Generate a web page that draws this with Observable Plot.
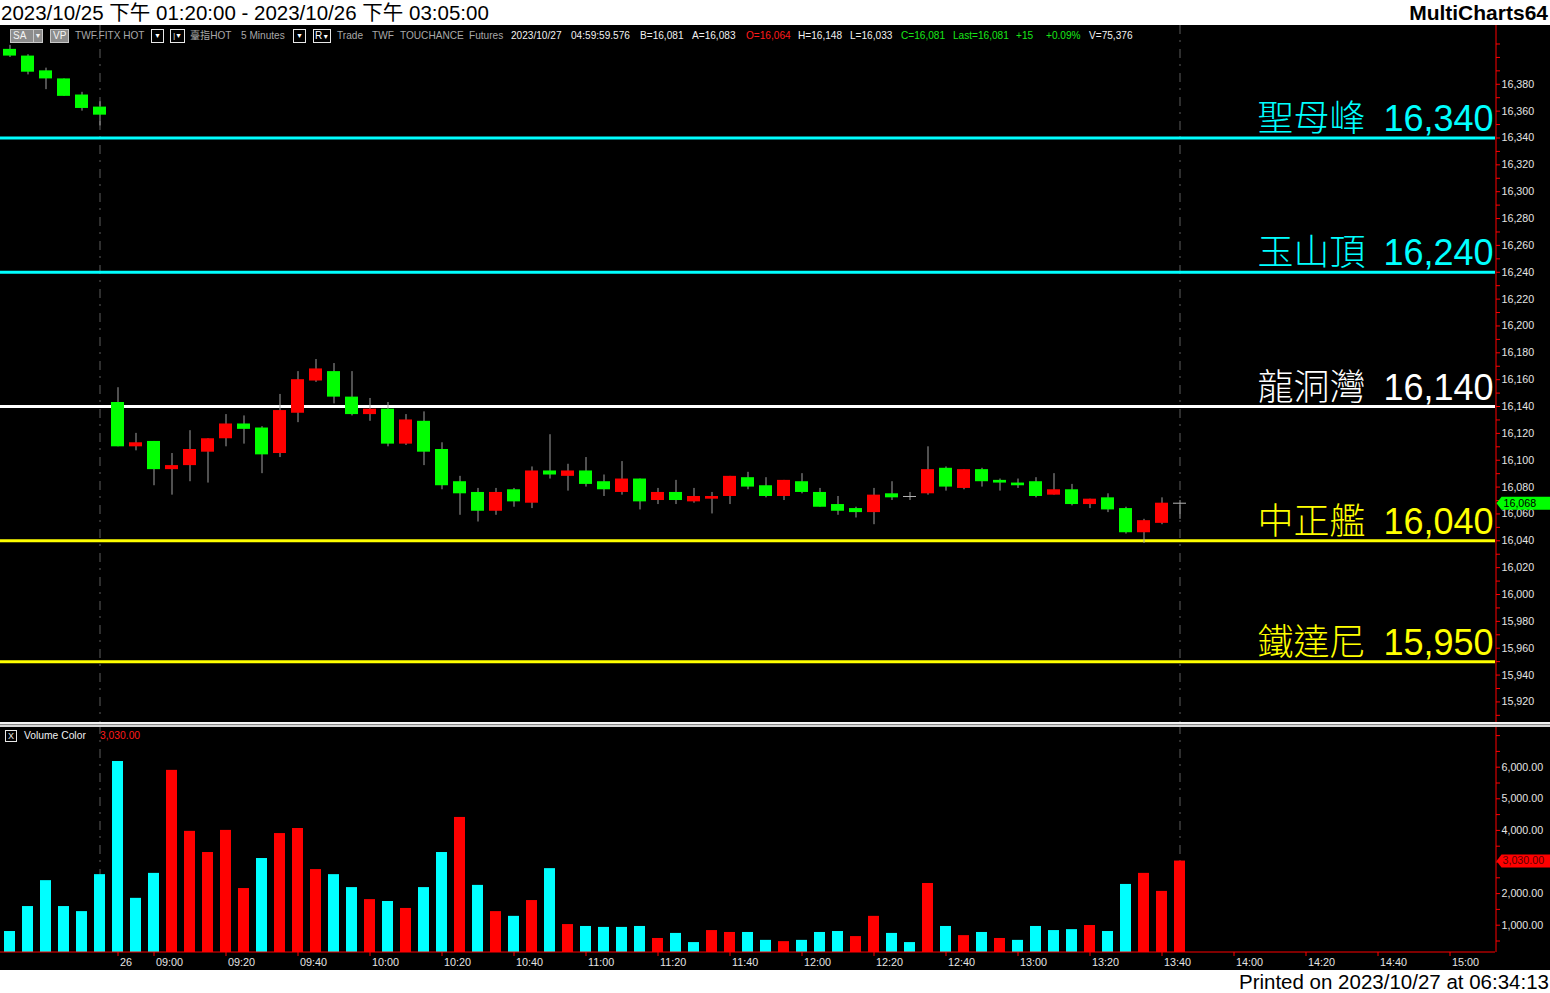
<!DOCTYPE html>
<html><head><meta charset="utf-8">
<script src="https://cdn.jsdelivr.net/npm/d3@7"></script>
<script src="https://cdn.jsdelivr.net/npm/@observablehq/plot@0.6"></script>
<style>
html,body{margin:0;padding:0;}
body{width:1550px;height:993px;overflow:hidden;background:#fff;position:relative;font-family:"Liberation Sans",Arial,"Noto Sans CJK TC",sans-serif;}
#title{position:absolute;left:1px;top:0;font-size:20.5px;line-height:25px;color:#000;white-space:nowrap;}
#brand{position:absolute;right:2px;top:0;font-size:21px;font-weight:bold;line-height:25px;color:#000;}
#footer{position:absolute;right:1px;top:970px;font-size:20.5px;line-height:23px;color:#000;white-space:nowrap;}
#chart{position:absolute;left:0;top:25px;width:1550px;height:945px;background:#000;overflow:hidden;}
#price{position:absolute;left:0;top:0;}
#vol{position:absolute;left:0;top:700px;}
#sep{position:absolute;left:0;top:697px;width:1550px;height:5px;background:linear-gradient(#f4f4f4 0 40%,#8a8a8a 40% 60%,#d8d8d8 60% 100%);}
.tb{position:absolute;top:4px;height:14px;line-height:14px;font-size:10.1px;white-space:nowrap;}
.g{color:#a8a8a8}.w{color:#f0f0f0}.r{color:#ff1a1a}.gr{color:#19e619}
.gbtn{position:absolute;top:4px;height:12px;background:#8c8c8c;border:1px solid #c8c8c8;color:#f4f4f4;font-size:10px;line-height:12px;padding-left:2px;box-sizing:content-box;}
.dd{position:absolute;right:0;top:0;width:8px;height:12px;border-left:1px solid #c8c8c8;text-align:center;font-size:7px;line-height:12px;}
.wbtn{position:absolute;top:4px;height:12px;border:1px solid #e8e8e8;background:#000;color:#fff;font-size:7px;line-height:12px;text-align:center;}
#vhead{position:absolute;left:24px;top:704px;font-size:10.3px;line-height:14px;color:#f0f0f0;white-space:nowrap;}
#vval{position:absolute;left:100px;top:704px;font-size:10.3px;line-height:14px;color:#ff1a1a;}
#vbox{position:absolute;left:5px;top:705px;width:10px;height:10px;border:1px solid #e8e8e8;color:#e8e8e8;font-size:9px;line-height:10px;text-align:center;}
</style></head>
<body>
<div id="title">2023/10/25 下午 01:20:00 - 2023/10/26 下午 03:05:00</div>
<div id="brand">MultiCharts64</div>
<div id="chart">
  <div id="price"></div>
  <div id="vol"></div>
  <div id="sep"></div>
  <div class="gbtn" style="left:10px;width:29px;">SA<span class="dd">▼</span></div>
  <div class="gbtn" style="left:50px;width:15px;">VP</div>
  <div class="tb g" style="left:75px;">TWF.FITX HOT</div>
  <div class="wbtn" style="left:151px;width:11px;">▼</div>
  <div class="wbtn" style="left:170px;width:13px;">|▼</div>
  <div class="tb g" style="left:190px;">臺指HOT</div>
  <div class="tb g" style="left:241px;">5 Minutes</div>
  <div class="wbtn" style="left:293px;width:11px;">▼</div>
  <div class="wbtn" style="left:313px;width:16px;"><span style="font-size:10px">R</span>▼</div>
  <div class="tb g" style="left:337px;">Trade</div>
  <div class="tb g" style="left:372px;">TWF</div>
  <div class="tb g" style="left:400px;">TOUCHANCE</div>
  <div class="tb g" style="left:469px;">Futures</div>
  <div class="tb w" style="left:511px;">2023/10/27</div>
  <div class="tb w" style="left:571px;">04:59:59.576</div>
  <div class="tb w" style="left:640px;">B=16,081</div>
  <div class="tb w" style="left:692px;">A=16,083</div>
  <div class="tb r" style="left:746px;">O=16,064</div>
  <div class="tb w" style="left:798px;">H=16,148</div>
  <div class="tb w" style="left:850px;">L=16,033</div>
  <div class="tb gr" style="left:901px;">C=16,081</div>
  <div class="tb gr" style="left:953px;">Last=16,081</div>
  <div class="tb gr" style="left:1016px;">+15</div>
  <div class="tb gr" style="left:1046px;">+0.09%</div>
  <div class="tb w" style="left:1089px;">V=75,376</div>
  <div id="vbox">X</div>
  <div id="vhead">Volume Color</div>
  <div id="vval">3,030.00</div>
</div>
<div id="footer">Printed on 2023/10/27 at 06:34:13</div>
<script>
// ---- data: 5-minute candles (10/25 13:20–13:45, 10/26 08:50–13:45) ----
const open  = [16406,16401,16390,16384,16372,16363,16143,16110,16114,16093,16096,16106,16116,16127,16124,16105,16135,16159,16166,16147,16134,16138,16112,16129,16108,16084,16076,16062,16078,16068,16092,16088,16092,16084,16076,16086,16070,16076,16069,16071,16073,16087,16081,16073,16084,16076,16067,16064,16061,16075,16073,16075,16094,16079,16093,16085,16083,16084,16074,16078,16067,16072,16064,16046,16053,16068];
const high  = [16409,16402,16392,16384,16374,16367,16154,16120,16114,16105,16122,16116,16134,16133,16125,16149,16166,16175,16172,16166,16146,16143,16134,16136,16113,16088,16079,16079,16079,16095,16119,16097,16102,16089,16099,16086,16079,16085,16079,16076,16088,16091,16087,16085,16090,16079,16073,16065,16079,16084,16076,16110,16095,16093,16094,16086,16086,16087,16090,16082,16071,16075,16065,16056,16072,16070];
const low   = [16400,16387,16376,16371,16360,16349,16110,16107,16081,16074,16084,16083,16110,16112,16090,16102,16128,16158,16142,16133,16129,16110,16111,16096,16078,16059,16054,16059,16065,16064,16086,16077,16080,16073,16074,16063,16067,16067,16068,16060,16067,16078,16072,16070,16075,16065,16059,16057,16052,16070,16070,16074,16077,16078,16080,16077,16079,16072,16074,16066,16064,16061,16045,16038,16052,16056];
const close = [16401,16389,16384,16371,16362,16357,16110,16113,16093,16096,16108,16116,16127,16123,16104,16137,16160,16168,16147,16134,16138,16112,16130,16106,16081,16075,16062,16076,16069,16092,16089,16092,16082,16078,16086,16069,16076,16070,16073,16073,16088,16080,16073,16085,16076,16065,16062,16061,16074,16072,16073,16093,16080,16093,16084,16083,16081,16073,16078,16067,16071,16063,16046,16055,16068,16068];
const volume   = [800,1590,2410,1590,1430,2600,6180,1850,2640,5900,3970,3300,4000,2160,3110,3900,4060,2760,2600,2190,1810,1750,1530,2190,3300,4410,2260,1430,1280,1780,2790,1020,960,930,930,960,580,740,450,830,770,770,520,480,520,770,800,640,1280,740,450,2320,960,670,770,580,520,960,830,860,990,800,2290,2640,2070,3030];
const volumeUp = [0,0,0,0,0,0,0,0,0,1,1,1,1,1,0,1,1,1,0,0,1,0,1,0,0,1,0,1,0,1,0,1,0,0,0,0,1,0,0,1,1,0,0,1,0,0,0,1,1,0,0,1,0,1,0,1,0,0,0,0,1,0,0,1,1,1];
const day1Count = 6;
const levelNames  = ["聖母峰","玉山頂","龍洞灣","中正艦","鐵達尼"];
const levelValues = [16340,16240,16140,16040,15950];
const priceTickLabels = [15920,15940,15960,15980,16000,16020,16040,16060,16080,16100,16120,16140,16160,16180,16200,16220,16240,16260,16280,16300,16320,16340,16360,16380];
const volTickLabels = [1000,2000,3000,4000,5000,6000];
const timeTickLabels = ["26","09:00","09:20","09:40","10:00","10:20","10:40","11:00","11:20","11:40","12:00","12:20","12:40","13:00","13:20","13:40","14:00","14:20","14:40","15:00"];

// ---- styles ----
const levelColor = {"聖母峰":"#00ffff","玉山頂":"#00ffff","龍洞灣":"#ffffff","中正艦":"#ffff00","鐵達尼":"#ffff00"};
const UP = "#ff0000", DOWN = "#00ff00", WICK = "#a0a0a0", VOLUP = "#ff0000", VOLDN = "#00ffff", AXIS = "#ff0000", LABEL = "#e4e4e4";
const FONT = "'Liberation Sans',Arial,'Noto Sans CJK TC',sans-serif";

// ---- derived tables ----
const n = open.length;
const candles = d3.range(n).map(i => ({i, open: open[i], high: high[i], low: low[i], close: close[i]}));
const bodies = candles.filter(d => d.open !== d.close);
const dojis = candles.filter(d => d.open === d.close);
const vols = d3.range(n).map(i => ({i, v: volume[i], up: volumeUp[i]}));
const levels = levelNames.map((name, k) => ({name, value: levelValues[k]}));
const sessionEnds = [day1Count - 1, n - 1];
const tickIndex = lab => {
  if (!lab.includes(":")) return day1Count;
  const [h, m] = lab.split(":").map(Number);
  return day1Count + (h * 60 + m - (8 * 60 + 50)) / 5;
};
const timeTicks = timeTickLabels.map(tickIndex);
const timeLabelOf = new Map(timeTicks.map((t, k) => [t, timeTickLabels[k]]));
const priceMinor = d3.range(15910, 16411, 10);
const volMinor = d3.range(500, 7001, 500);

// layout
const W = 1550, MR = 55;
const xDomain = [0, 82], xRange = [9.5, 9.5 + 18 * 82];
const xs = d3.scaleLinear(xDomain, xRange);
const axisEdge = xs.invert(W - MR + 0.5);
const HW = 6.5 / 18, VW = 5.5 / 18;
const PH = 698, VH = 245, VMB = 18;
const pDomain = [15900, 16420], pRange = [703.28, 5.07];
const vDomain = [0, 7000], vRange = [231.3, 10.1];
const volBase = d3.scaleLinear(vDomain, vRange).invert(VH - VMB - 0.5);

const tag = {draw(ctx) { ctx.moveTo(1, 0); ctx.lineTo(6, -6.5); ctx.lineTo(55, -6.5); ctx.lineTo(55, 6.5); ctx.lineTo(6, 6.5); ctx.closePath(); }};
const styleObj = {background: "transparent", color: LABEL, fontFamily: FONT, overflow: "visible"};
const dashed = {stroke: "#5c5c5c", strokeDasharray: "9,6,2,7"};
const fmtInt = d3.format(","), fmt2 = d3.format(",.2f");
const lastC = candles[n - 1], lastV = vols[n - 1];

const price = Plot.plot({
  width: W, height: PH, marginLeft: 0, marginRight: MR, marginTop: 0, marginBottom: 0,
  style: styleObj,
  x: {type: "linear", domain: xDomain, range: xRange, axis: null},
  y: {domain: pDomain, range: pRange, axis: null},
  marks: [
    Plot.ruleX(sessionEnds, {x: d => d, ...dashed}),
    Plot.ruleY(levels, {y: "value", stroke: d => levelColor[d.name], strokeWidth: 3}),
    Plot.text(levels, {y: "value", frameAnchor: "right", textAnchor: "end", lineAnchor: "bottom", dx: -2, dy: -7,
      text: d => `${d.name}\u2002${fmtInt(d.value)}`, fill: d => levelColor[d.name], fontSize: 36, fontWeight: 300}),
    Plot.ruleX(candles, {x: "i", y1: "low", y2: "high", stroke: WICK}),
    Plot.rect(bodies, {x1: d => d.i - HW, x2: d => d.i + HW, y1: "open", y2: "close", fill: d => d.close > d.open ? UP : DOWN}),
    Plot.ruleY(dojis, {y: "open", x1: d => d.i - HW, x2: d => d.i + HW, stroke: "#b4b4b4"}),
    Plot.ruleX([axisEdge], {stroke: AXIS}),
    Plot.axisY(priceMinor, {anchor: "right", tickSize: 4, tickFormat: () => "", stroke: AXIS, label: null}),
    Plot.axisY(priceTickLabels, {anchor: "right", tickSize: 0, tickPadding: 6, tickFormat: fmtInt, fill: LABEL, fontSize: 10.7, label: null}),
    Plot.dot([lastC], {y: "close", frameAnchor: "right", symbol: tag, fill: DOWN}),
    Plot.text([lastC], {y: "close", frameAnchor: "right", textAnchor: "start", dx: 8, text: d => fmtInt(d.close), fill: "#000", fontSize: 10.7})
  ]
});
document.getElementById("price").append(price);

const vol = Plot.plot({
  width: W, height: VH, marginLeft: 0, marginRight: MR, marginTop: 0, marginBottom: VMB,
  style: styleObj,
  x: {type: "linear", domain: xDomain, range: xRange, axis: null},
  y: {domain: vDomain, range: vRange, axis: null},
  marks: [
    Plot.ruleX(sessionEnds, {x: d => d, ...dashed}),
    Plot.rect(vols, {x1: d => d.i - VW, x2: d => d.i + VW, y1: 0, y2: "v", fill: d => d.up ? VOLUP : VOLDN, clip: true}),
    Plot.ruleY([volBase], {stroke: AXIS}),
    Plot.ruleX([axisEdge], {stroke: AXIS}),
    Plot.axisY(volMinor, {anchor: "right", tickSize: 4, tickFormat: () => "", stroke: AXIS, label: null}),
    Plot.axisY(volTickLabels, {anchor: "right", tickSize: 0, tickPadding: 6, tickFormat: fmt2, fill: LABEL, fontSize: 10.7, label: null}),
    Plot.axisX(timeTicks, {anchor: "bottom", tickSize: 4, tickFormat: () => "", stroke: AXIS, label: null}),
    Plot.axisX(timeTicks, {anchor: "bottom", tickSize: 0, tickPadding: 6, tickFormat: d => timeLabelOf.get(d), textAnchor: "start", dx: 2, fill: LABEL, fontSize: 10.8, label: null}),
    Plot.dot([lastV], {y: "v", frameAnchor: "right", symbol: tag, fill: VOLUP}),
    Plot.text([lastV], {y: "v", frameAnchor: "right", textAnchor: "start", dx: 7, text: d => fmt2(d.v), fill: "#5a0000", fontSize: 10.7})
  ]
});
document.getElementById("vol").append(vol);
</script>
</body></html>
